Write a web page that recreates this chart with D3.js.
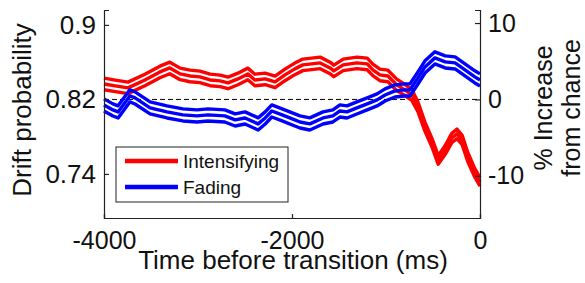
<!DOCTYPE html>
<html>
<head>
<meta charset="utf-8">
<script src="https://cdn.jsdelivr.net/npm/d3@7"></script>
<style>
  body { margin: 0; background: #fff; }
  svg text { font-family: "Liberation Sans", Arial, sans-serif; fill: #111; }
</style>
</head>
<body>
<svg id="chart" width="585" height="283"></svg>
<script>
// time before transition (ms) and drift probability
var redTime = [-4000, -3880, -3745, -3565, -3405, -3300, -3190, -3085, -2980, -2870, -2765, -2680,
               -2575, -2470, -2395, -2285, -2180, -2075, -1970, -1885, -1700, -1595, -1555, -1455,
               -1310, -1200, -1140, -1065, -980, -885, -800, -725, -660, -585, -510, -445, -370,
               -300, -245, -190, -130, -55, 0];
var redProb = [0.8366, 0.8345, 0.8324, 0.8409, 0.8495, 0.8538, 0.8474, 0.8452, 0.8442, 0.8409, 0.8399, 0.8377,
               0.842, 0.8474, 0.8409, 0.842, 0.8388, 0.8463, 0.8528, 0.8571, 0.8592, 0.8538, 0.8506, 0.8571,
               0.8592, 0.8581, 0.8517, 0.8463, 0.8452, 0.8356, 0.8302, 0.8248, 0.812, 0.7905, 0.7733, 0.755, 0.7658,
               0.7787, 0.783, 0.7765, 0.7582, 0.7411, 0.7314];
var redSem = [0.0062, 0.0062, 0.0062, 0.0062, 0.0062, 0.0062, 0.0062, 0.0062, 0.0062, 0.0062, 0.0062, 0.0062,
              0.0062, 0.0062, 0.0062, 0.0062, 0.0062, 0.0062, 0.0062, 0.0062, 0.0062, 0.0062, 0.0062, 0.0062,
              0.0062, 0.0062, 0.0062, 0.0062, 0.0062, 0.0062, 0.006, 0.0058, 0.0052, 0.0048, 0.0046, 0.0046, 0.0048,
              0.005, 0.0052, 0.005, 0.0048, 0.0046, 0.0046];

var blueTime = [-4000, -3905, -3850, -3725, -3670, -3510, -3330, -3160, -3010, -2895, -2715, -2605,
                -2500, -2360, -2285, -2215, -2105, -1970, -1915, -1810, -1670, -1565, -1490, -1415,
                -1310, -1200, -1095, -1010, -905, -800, -745, -660, -585, -480, -370, -265, -160, -55, 0];
var blueProb = [0.8141, 0.8087, 0.8066, 0.8238, 0.8216, 0.8109, 0.8066, 0.8034, 0.8023, 0.8034, 0.8023, 0.798,
                0.8001, 0.7937, 0.8001, 0.8076, 0.8034, 0.798, 0.7958, 0.7937, 0.8001, 0.8023, 0.8076, 0.8066,
                0.8109, 0.8152, 0.8195, 0.8248, 0.8291, 0.8302, 0.8302, 0.8431, 0.8549, 0.8646, 0.8603, 0.8592,
                0.8517, 0.8442, 0.8409];
var blueSem = [0.0065, 0.0065, 0.0065, 0.0065, 0.0065, 0.0065, 0.0065, 0.0065, 0.0065, 0.0065, 0.0065, 0.0065,
               0.0065, 0.0065, 0.0065, 0.0065, 0.0065, 0.0065, 0.0065, 0.0065, 0.0065, 0.0065, 0.0065, 0.0065,
               0.0065, 0.0065, 0.0065, 0.0065, 0.0065, 0.0065, 0.0065, 0.0065, 0.0065, 0.0065, 0.0065, 0.0065,
               0.0065, 0.0065, 0.0065];

var chance = 0.82;
var xTicks = [-4000, -2000, 0];
var yTicks = [0.74, 0.82, 0.9];
var pctTicks = [-10, 0, 10];
var seriesNames = ["Intensifying", "Fading"];
var seriesColors = ["#ff0000", "#0000ff"];

function render() {
    var svg = d3.select("#chart");
    var left = 104, right = 480, plotTop = 10, plotBottom = 218;

    var xs = d3.scaleLinear().domain([-4000, 0]).range([left, right]);
    var ys = d3.scaleLinear().domain([0.6927, 0.916]).range([plotBottom, plotTop]);
    var ps = d3.scaleLinear()
        .domain([(0.6927 / chance - 1) * 100, (0.916 / chance - 1) * 100])
        .range([plotBottom, plotTop]);

    // chance level
    svg.append("line")
        .attr("x1", left).attr("x2", right)
        .attr("y1", ys(chance)).attr("y2", ys(chance))
        .attr("stroke", "#000").attr("stroke-width", 1)
        .attr("stroke-dasharray", "5,3");

    function drawSeries(time, prob, sem, color) {
        var pts = time.map(function(t, i) { return {t: t, m: prob[i], s: sem[i]}; });
        var g = svg.append("g");
        [-1, 0, 1].forEach(function(k) {
            var line = d3.line()
                .x(function(d) { return xs(d.t); })
                .y(function(d) { return ys(d.m + k * d.s); });
            g.append("path")
                .datum(pts)
                .attr("d", line)
                .attr("fill", "none")
                .attr("stroke", color)
                .attr("stroke-width", 3.4)
                .attr("stroke-linejoin", "round");
        });
    }
    drawSeries(redTime, redProb, redSem, seriesColors[0]);
    drawSeries(blueTime, blueProb, blueSem, seriesColors[1]);

    // axes (matlab style, ticks pointing in)
    var axisColor = "#222";
    var fs = 25;

    var yAxis = d3.axisLeft(ys).tickValues(yTicks).tickSize(-5).tickPadding(8)
        .tickFormat(function(d) { return String(d); });
    var gy = svg.append("g").attr("transform", "translate(" + left + ",0)").call(yAxis);

    var pAxis = d3.axisRight(ps).tickValues(pctTicks).tickSize(-5).tickPadding(8)
        .tickFormat(function(d) { return String(d); });
    var gp = svg.append("g").attr("transform", "translate(" + right + ",0)").call(pAxis);

    var xAxis = d3.axisBottom(xs).tickValues(xTicks).tickSize(-4).tickPadding(13)
        .tickFormat(function(d) { return String(d); });
    var gx = svg.append("g").attr("transform", "translate(0," + plotBottom + ")").call(xAxis);

    [gy, gp, gx].forEach(function(g) {
        g.select(".domain").attr("stroke", axisColor).attr("stroke-width", 1.2);
        g.selectAll(".tick line").attr("stroke", axisColor).attr("stroke-width", 1.2);
        g.selectAll(".tick text").style("font-size", fs + "px").attr("fill", "#111")
            .style("font-family", "'Liberation Sans', Arial, sans-serif");
    });
    gy.selectAll(".tick text").style("font-size", "26px");

    // axis titles
    svg.append("text")
        .attr("transform", "translate(31,110) rotate(-90)")
        .style("text-anchor", "middle")
        .style("font-size", "26px")
        .text("Drift probability");

    svg.append("text")
        .attr("x", (left + right) / 2 + 1)
        .attr("y", 269)
        .style("text-anchor", "middle")
        .style("font-size", "26px")
        .text("Time before transition (ms)");

    svg.append("text")
        .attr("transform", "translate(552,108) rotate(-90)")
        .style("text-anchor", "middle")
        .style("font-size", fs + "px")
        .text("% Increase");
    svg.append("text")
        .attr("transform", "translate(580,108) rotate(-90)")
        .style("text-anchor", "middle")
        .style("font-size", fs + "px")
        .text("from chance");

    // legend
    var legend = svg.append("g");
    legend.append("rect")
        .attr("x", 116).attr("y", 147).attr("width", 172).attr("height", 55)
        .attr("fill", "#fff").attr("stroke", axisColor).attr("stroke-width", 1);
    seriesNames.forEach(function(name, i) {
        var ly = 161 + i * 26;
        legend.append("line")
            .attr("x1", 125).attr("x2", 178)
            .attr("y1", ly).attr("y2", ly)
            .attr("stroke", seriesColors[i]).attr("stroke-width", 4.5);
        legend.append("text")
            .attr("x", 183).attr("y", ly + 7)
            .style("font-size", "19px")
            .text(name);
    });
}

render();
</script>
</body>
</html>
